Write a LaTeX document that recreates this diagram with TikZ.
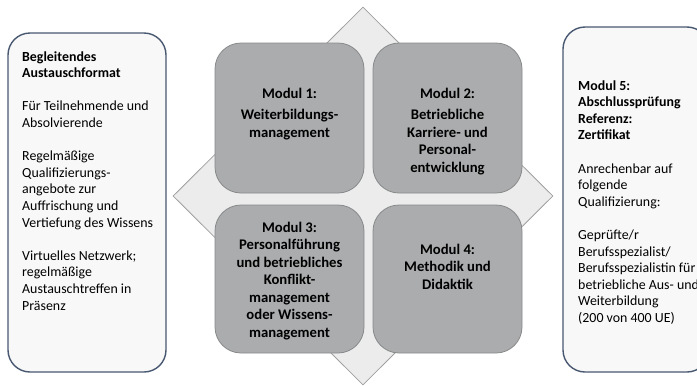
\documentclass[tikz,border=0pt]{standalone}
\usepackage{fontspec}
\setmainfont{Carlito}
\usetikzlibrary{shapes.geometric}
\definecolor{modfill}{RGB}{170,172,173}
\definecolor{moddraw}{RGB}{135,137,138}
\definecolor{diafill}{RGB}{236,236,236}
\definecolor{diadraw}{RGB}{160,160,160}
\definecolor{sidefill}{RGB}{248,248,248}
\definecolor{sidedraw}{RGB}{72,88,112}
\tikzset{
  sidebox/.style={draw=sidedraw, fill=sidefill, line width=1.4pt, rounded corners=22pt, inner sep=0pt},
  modbox/.style={draw=moddraw, fill=modfill, line width=0.8pt, rounded corners=26pt, inner sep=0pt, minimum width=149pt, minimum height=150pt},
  sidetext/.style={align=left, inner sep=0pt, font=\fontsize{13.9}{16.6}\selectfont},
  modtext/.style={align=center, inner sep=0pt, font=\fontsize{14.7}{17.5}\selectfont\bfseries},
}
\begin{document}
\begin{tikzpicture}[x=1pt,y=-1pt]
\useasboundingbox (0,0) rectangle (697,386);
\clip (0,0) rectangle (697,386);
% background diamond
\node[diamond, draw=diadraw, fill=diafill, line width=0.8pt, inner sep=0pt, minimum width=380pt, minimum height=378pt] (dia) at (363,196) {};
% modules
\node[modbox] (m1) at (289.5,118) {};
\node[modbox] (m2) at (447.5,118) {};
\node[modbox, minimum height=148pt] (m3) at (289.5,279) {};
\node[modbox, minimum height=148pt] (m4) at (447.5,279) {};
% (base anchor = baseline of the last line)
\node[modtext, anchor=base] (t1) at (289.5,137) {Modul 1:\\[4pt]Weiterbildungs-\\management};
\node[modtext, anchor=base] (t2) at (447.5,172) {Modul 2:\\[4pt]Betriebliche\\Karriere- und\\Personal-\\entwicklung};
\node[modtext, anchor=base] (t3) at (289.5,337) {Modul 3:\\Personalführung\\und betriebliches\\Konflikt-\\management\\oder Wissens-\\management};
\node[modtext, anchor=base] (t4) at (447.5,289) {Modul 4:\\Methodik und\\Didaktik};
% side boxes
\node[sidebox, minimum width=158pt, minimum height=339pt] (lb) at (87,202.5) {};
\node[sidebox, minimum width=146pt, minimum height=345pt] (rb) at (636,199.5) {};
\node[sidetext, anchor=base west] (lt) at (22,310) {\textbf{Begleitendes}\\\textbf{Austauschformat}\\[16.6pt]Für Teilnehmende und\\Absolvierende\\[16.6pt]Regelmäßige\\Qualifizierungs-\\angebote zur\\Auffrischung und\\Vertiefung des Wissens\\[16.6pt]Virtuelles Netzwerk;\\regelmäßige\\Austauschtreffen in\\Präsenz};
\node[sidetext, anchor=base west] (rt) at (578,322.5) {\textbf{Modul 5:}\\\textbf{Abschlussprüfung}\\\textbf{Referenz:}\\\textbf{Zertifikat}\\[16.6pt]Anrechenbar auf\\folgende\\Qualifizierung:\\[16.6pt]Geprüfte/r\\Berufsspezialist/\\Berufsspezialistin für\\betriebliche Aus- und\\Weiterbildung\\(200 von 400 UE)};
\end{tikzpicture}
\end{document}
